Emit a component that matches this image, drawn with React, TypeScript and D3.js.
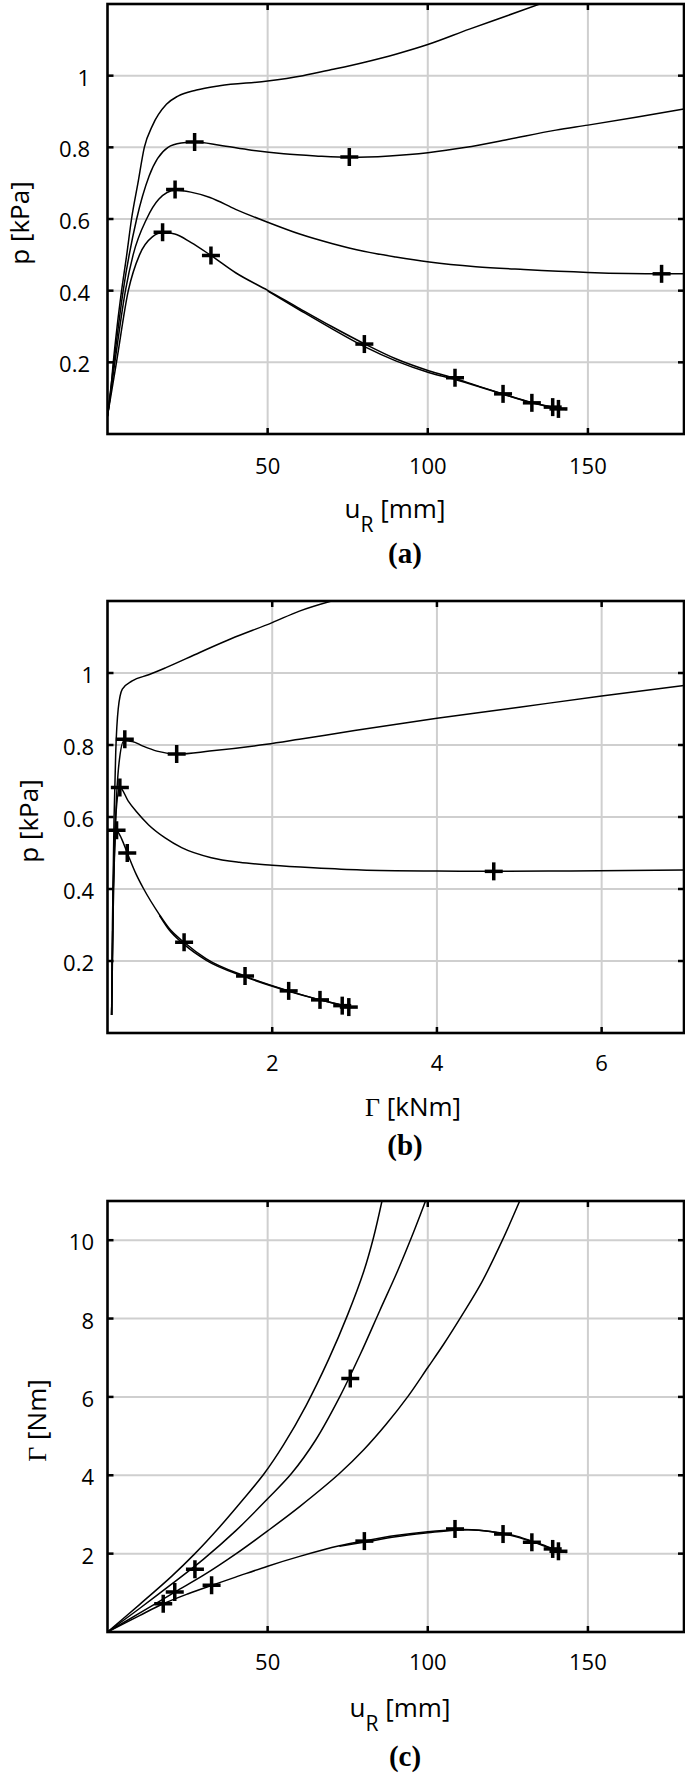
import React from 'react';
import { scaleLinear, line, curveMonotoneX, curveCatmullRom, format } from 'd3';

// ---- data ----
// (a) p [kPa] vs u_R [mm]
const aCurve1 = [[0, 0.05], [1, 0.12], [1.8, 0.2], [3, 0.3], [4.4, 0.4], [6, 0.5], [7.5, 0.6], [9.5, 0.7], [11.5, 0.8], [14, 0.86], [18.4, 0.92], [22, 0.943], [27.8, 0.96], [35, 0.972], [50, 0.985], [61, 1.0], [70, 1.017], [80, 1.037], [90, 1.06], [100, 1.087], [113, 1.13], [125, 1.168], [135, 1.2]];
const aCurve2 = [[0, 0.05], [2, 0.2], [4.9, 0.4], [9.1, 0.6], [13, 0.72], [18.9, 0.8], [23, 0.812], [27.3, 0.815], [35, 0.806], [45, 0.792], [55, 0.782], [65, 0.776], [75.8, 0.772], [88, 0.776], [100, 0.785], [112, 0.8], [125, 0.822], [140, 0.848], [150, 0.862], [165, 0.884], [180, 0.907]];
const aCurve3 = [[0, 0.05], [2.3, 0.2], [5.6, 0.4], [8, 0.5], [12.2, 0.6], [16, 0.655], [21.2, 0.68], [26, 0.675], [32, 0.66], [40, 0.627], [50, 0.591], [60, 0.558], [70.3, 0.531], [80, 0.51], [90, 0.494], [100.5, 0.48], [115, 0.467], [130, 0.459], [150, 0.451], [173, 0.447], [180, 0.447]];
const aCurve4 = [[0, 0.05], [2.8, 0.2], [6.5, 0.4], [10, 0.5], [14, 0.55], [17.4, 0.562], [21, 0.558], [26, 0.535], [32.5, 0.497], [40, 0.45], [50, 0.401], [60, 0.35], [70, 0.3], [80.4, 0.251], [90, 0.21], [100.5, 0.176], [108.5, 0.155], [116, 0.133], [123.5, 0.112], [132.5, 0.088], [139, 0.075], [143.3, 0.068]];
const aCurve4b = [[50, 0.399], [60, 0.346], [70, 0.294], [80.4, 0.243], [90, 0.204], [100.5, 0.171], [108.5, 0.152], [116, 0.132], [123.5, 0.111], [132.5, 0.087], [139, 0.074], [143.3, 0.068]];
const aMarkers = [[27.2, 0.815], [75.5, 0.773], [21.1, 0.682], [173, 0.447], [17.2, 0.563], [32.3, 0.498], [80.2, 0.251], [108.5, 0.157], [123.5, 0.112], [132.5, 0.087], [139, 0.075], [140.8, 0.07]];

// (b) p [kPa] vs Gamma [kNm]
const bCurve1 = [[0.05, 0.05], [0.06, 0.3], [0.08, 0.6], [0.1, 0.78], [0.13, 0.9], [0.18, 0.955], [0.3, 0.978], [0.5, 0.995], [0.71, 1.015], [1.12, 1.057], [1.5, 1.095], [2.0, 1.14], [2.33, 1.172], [2.72, 1.2]];
const bCurve2 = [[0.05, 0.05], [0.07, 0.35], [0.1, 0.6], [0.14, 0.75], [0.2, 0.812], [0.3, 0.81], [0.43, 0.797], [0.6, 0.783], [0.85, 0.775], [1.24, 0.783], [1.93, 0.802], [2.33, 0.816], [3, 0.84], [4, 0.874], [5, 0.905], [6, 0.936], [7, 0.965]];
const bCurve3 = [[0.05, 0.05], [0.07, 0.4], [0.1, 0.6], [0.15, 0.682], [0.25, 0.645], [0.35, 0.615], [0.5, 0.578], [0.7, 0.542], [0.9, 0.515], [1.26, 0.487], [1.6, 0.474], [2.0, 0.466], [2.5, 0.459], [3.08, 0.453], [4, 0.45], [4.7, 0.449], [5.5, 0.45], [7, 0.453]];
const bCurve4 = [[0.05, 0.05], [0.07, 0.4], [0.11, 0.562], [0.17, 0.54], [0.24, 0.5], [0.35, 0.44], [0.44, 0.4], [0.63, 0.329], [0.75, 0.29], [0.93, 0.252], [1.2, 0.206], [1.67, 0.158], [2.2, 0.117], [2.58, 0.092], [2.85, 0.077], [2.95, 0.07]];
const bCurve4b = [[0.63, 0.327], [0.75, 0.286], [0.93, 0.246], [1.2, 0.202], [1.67, 0.156], [2.2, 0.116], [2.58, 0.092], [2.85, 0.077], [2.95, 0.07]];
const bMarkers = [[0.21, 0.816], [0.84, 0.775], [0.15, 0.682], [4.69, 0.449], [0.11, 0.563], [0.24, 0.5], [0.93, 0.252], [1.67, 0.158], [2.2, 0.117], [2.58, 0.092], [2.85, 0.076], [2.93, 0.072]];

// (c) Gamma [Nm] vs u_R [mm]
const cCurve1 = [[0, 0], [10, 0.7], [20, 1.42], [27.3, 2.0], [35, 2.68], [42, 3.35], [49, 4.05], [55, 4.78], [62, 5.78], [69, 6.95], [75, 8.1], [80, 9.2], [83, 10.05], [85.7, 11]];
const cCurve2 = [[0, 0], [10, 0.6], [20, 1.22], [30, 1.86], [40, 2.58], [50, 3.4], [57.5, 4.05], [65, 4.9], [72.5, 6.0], [79, 7.1], [85, 8.2], [90.5, 9.2], [95.3, 10.15], [99.3, 11]];
const cCurve3 = [[0, 0], [10, 0.48], [21, 1.02], [30, 1.45], [40.2, 2.0], [50, 2.58], [60, 3.2], [72.5, 4.05], [80, 4.65], [87, 5.3], [93.7, 6.0], [100, 6.75], [105, 7.35], [110.8, 8.1], [117, 8.95], [123.3, 10], [128.7, 11]];
const cCurve4 = [[0, 0], [10, 0.42], [17.4, 0.72], [25, 0.97], [32.5, 1.19], [40, 1.4], [50, 1.68], [60, 1.93], [72.4, 2.2], [80, 2.32], [90, 2.46], [100, 2.56], [108.5, 2.61], [116, 2.6], [123.5, 2.52], [128, 2.44], [132.5, 2.32], [136, 2.22], [139, 2.13], [143.3, 2.03]];
const cCurve4b = [[72.4, 2.19], [80, 2.29], [90, 2.43], [100, 2.53], [108.5, 2.6], [116, 2.6], [123.5, 2.51], [132.5, 2.31], [139, 2.12], [143.3, 2.03]];
const cMarkers = [[17.4, 0.72], [21, 1.02], [27.3, 1.6], [32.5, 1.19], [75.8, 6.47], [80.2, 2.32], [108.5, 2.63], [123.5, 2.5], [132.5, 2.29], [139, 2.12], [140.8, 2.06]];

const uTicks = [50, 100, 150];
const pTicks = [0.2, 0.4, 0.6, 0.8, 1];
const gkTicks = [2, 4, 6];
const gTicks = [2, 4, 6, 8, 10];

const W = 685;
const H = 1776;
const left = 107.5;
const right = 684;
const sans = '"Open Sans", "Noto Sans", sans-serif';
const serif = '"Liberation Serif", "DejaVu Serif", serif';
const fmt = format('~g');

function Panel({ id, top, bottom, xDomain, yDomain, xTicks, yTicks, curves, markers, smooth, yLabelX, yTickX, xLabel, xLabelX, yLabel, letter, tickBase, labelBase, letterBase }) {
  const x = scaleLinear().domain(xDomain).range([left, right]);
  const y = scaleLinear().domain(yDomain).range([bottom, top]);
  const gen = line()
    .x((d) => x(d[0]))
    .y((d) => y(d[1]))
    .curve(smooth ? curveCatmullRom.alpha(0.5) : curveMonotoneX);
  const tl = 6;
  const ms = 9; // half size of the + marker
  const yc = (top + bottom) / 2;
  return (
    <g>
      <defs>
        <clipPath id={`clip-${id}`}>
          <rect x={left} y={top} width={right - left} height={bottom - top} />
        </clipPath>
      </defs>
      {/* grid */}
      {xTicks.map((t) => (
        <line key={`gx${t}`} x1={x(t)} x2={x(t)} y1={top} y2={bottom} stroke="#cfcfcf" strokeWidth={2} />
      ))}
      {yTicks.map((t) => (
        <line key={`gy${t}`} x1={left} x2={right} y1={y(t)} y2={y(t)} stroke="#cfcfcf" strokeWidth={2} />
      ))}
      {/* curves + markers */}
      <g clipPath={`url(#clip-${id})`}>
        {curves.map((c, i) => (
          <path key={i} d={gen(c)} fill="none" stroke="#000" strokeWidth={1.5} />
        ))}
        {markers.map((m, i) => (
          <g key={`m${i}`} stroke="#000" strokeWidth={3.5}>
            <line x1={x(m[0]) - ms} x2={x(m[0]) + ms} y1={y(m[1])} y2={y(m[1])} />
            <line x1={x(m[0])} x2={x(m[0])} y1={y(m[1]) - ms} y2={y(m[1]) + ms} />
          </g>
        ))}
      </g>
      {/* ticks on all four sides, pointing in */}
      {xTicks.map((t) => (
        <g key={`tx${t}`} stroke="#000" strokeWidth={2.5}>
          <line x1={x(t)} x2={x(t)} y1={bottom} y2={bottom - tl} />
          <line x1={x(t)} x2={x(t)} y1={top} y2={top + tl} />
        </g>
      ))}
      {yTicks.map((t) => (
        <g key={`ty${t}`} stroke="#000" strokeWidth={2.5}>
          <line x1={left} x2={left + tl} y1={y(t)} y2={y(t)} />
          <line x1={right} x2={right - tl} y1={y(t)} y2={y(t)} />
        </g>
      ))}
      <rect x={left} y={top} width={right - left} height={bottom - top} fill="none" stroke="#000" strokeWidth={2.6} />
      {/* tick labels */}
      {xTicks.map((t) => (
        <text key={`lx${t}`} x={x(t)} y={tickBase} textAnchor="middle" fontFamily={sans} fontSize={22}>
          {fmt(t)}
        </text>
      ))}
      {yTicks.map((t) => (
        <text key={`ly${t}`} x={yTickX} y={y(t) + 10} textAnchor="end" fontFamily={sans} fontSize={22}>
          {fmt(t)}
        </text>
      ))}
      {/* axis labels */}
      <text x={xLabelX} y={labelBase} textAnchor="middle" fontFamily={sans} fontSize={26}>
        {xLabel}
      </text>
      <text transform={`translate(${yLabelX},${yc + 4}) rotate(-90)`} textAnchor="middle" fontFamily={sans} fontSize={26}>
        {yLabel}
      </text>
      <text x={405} y={letterBase} textAnchor="middle" fontFamily={serif} fontWeight="bold" fontSize={29}>
        {letter}
      </text>
    </g>
  );
}

const uLabel = (
  <>
    <tspan>u</tspan>
    <tspan fontSize={21} dy={14}>R</tspan>
    <tspan dy={-14}> [mm]</tspan>
  </>
);

export default function App() {
  return (
    <svg width={W} height={H} style={{ position: 'absolute', left: 0, top: 0, background: '#fff' }}>
      <rect width={W} height={H} fill="#fff" />
      <Panel
        id="a"
        top={4}
        bottom={434}
        xDomain={[0, 180]}
        yDomain={[0, 1.2]}
        xTicks={uTicks}
        yTicks={pTicks}
        curves={[aCurve1, aCurve2, aCurve3, aCurve4, aCurve4b]}
        markers={aMarkers}
        smooth={false}
        yLabelX={29}
        yTickX={90}
        xLabel={uLabel}
        xLabelX={395}
        yLabel="p [kPa]"
        letter="(a)"
        tickBase={474}
        labelBase={518}
        letterBase={563}
      />
      <Panel
        id="b"
        top={601}
        bottom={1033}
        xDomain={[0, 7]}
        yDomain={[0, 1.2]}
        xTicks={gkTicks}
        yTicks={pTicks}
        curves={[bCurve1, bCurve2, bCurve3, bCurve4, bCurve4b]}
        markers={bMarkers}
        smooth={false}
        yLabelX={38}
        yTickX={94}
        xLabel={
          <>
            <tspan fontFamily={serif}>Γ</tspan>
            <tspan> [kNm]</tspan>
          </>
        }
        xLabelX={413}
        yLabel="p [kPa]"
        letter="(b)"
        tickBase={1071}
        labelBase={1116}
        letterBase={1155}
      />
      <Panel
        id="c"
        top={1201}
        bottom={1632}
        xDomain={[0, 180]}
        yDomain={[0, 11]}
        xTicks={uTicks}
        yTicks={gTicks}
        curves={[cCurve1, cCurve2, cCurve3, cCurve4, cCurve4b]}
        markers={cMarkers}
        smooth={true}
        yLabelX={46}
        yTickX={94}
        xLabel={uLabel}
        xLabelX={400}
        yLabel={
          <>
            <tspan fontFamily={serif}>Γ</tspan>
            <tspan> [Nm]</tspan>
          </>
        }
        letter="(c)"
        tickBase={1670}
        labelBase={1717}
        letterBase={1766}
      />
    </svg>
  );
}
